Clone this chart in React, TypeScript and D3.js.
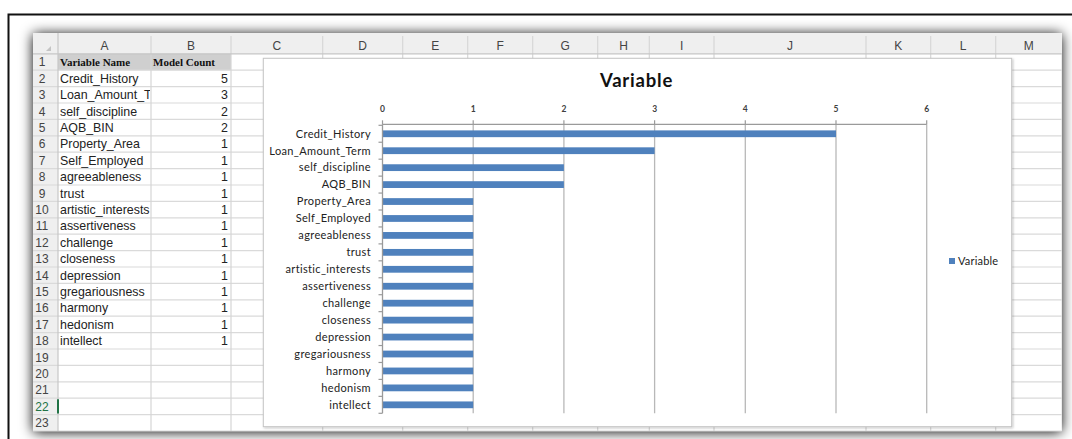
import React from 'react';
import * as d3 from 'd3';

// ---- data ----
const categories = [
  'Credit_History', 'Loan_Amount_Term', 'self_discipline', 'AQB_BIN', 'Property_Area',
  'Self_Employed', 'agreeableness', 'trust', 'artistic_interests', 'assertiveness',
  'challenge', 'closeness', 'depression', 'gregariousness', 'harmony', 'hedonism', 'intellect',
];
const modelCounts = [5, 3, 2, 2, 1, 1, 1, 1, 1, 1, 1, 1, 1, 1, 1, 1, 1];
const xTicks = [0, 1, 2, 3, 4, 5, 6];
const chartTitle = 'Variable';
const seriesName = 'Variable';
const headerNames = ['Variable Name', 'Model Count'];
const columnLetters = ['A', 'B', 'C', 'D', 'E', 'F', 'G', 'H', 'I', 'J', 'K', 'L', 'M'];
const rowCount = 23;

// ---- layout ----
const W = 1072, H = 439;
const colEdges = [58, 151, 231, 322.7, 402.7, 467.7, 532.7, 597.7, 649.3, 714, 866, 930.7, 995.7, 1061.7];
const sheetLeft = 33, sheetTop = 33, sheetRight = 1061.7, sheetBottom = 431;
const headBottom = 53.8, rowH = 16.4;
const chartBox = { x0: 263.3, y0: 58.3, x1: 1011.7, y1: 426.7 };
const plot = { left: 382.5, right: 926.7, top: 124.3, bottom: 413.3 };
const BAR = '#4F81BD';
const SHEET_FONT = '"Liberation Sans", Arial, sans-serif';
const CHART_FONT = 'Lato, "Open Sans", sans-serif';

export default function App() {
  const x = d3.scaleLinear().domain([0, 6]).range([plot.left, plot.right]);
  const y = d3.scaleBand<string>().domain(categories).range([plot.top + 1, plot.bottom]).paddingInner(0.6).paddingOuter(0.3);
  const step = y.step();
  const rowY = (r: number) => headBottom + (r - 1) * rowH; // top of row r

  return (
    <svg width={W} height={H} style={{ position: 'absolute', left: 0, top: 0, background: '#fff' }}>
      <defs>
        <filter id="sheetShadow" x="-5%" y="-10%" width="110%" height="120%">
          <feDropShadow dx="0" dy="1" stdDeviation="6.5" floodColor="#000" floodOpacity="1" />
        </filter>
        <filter id="chartShadow" x="-2%" y="-2%" width="104%" height="104%">
          <feDropShadow dx="1" dy="1" stdDeviation="0.8" floodColor="#000" floodOpacity="0.25" />
        </filter>
        <clipPath id="clipA"><rect x={colEdges[0]} y={0} width={colEdges[1] - colEdges[0] - 1} height={H} /></clipPath>
      </defs>
      <rect x={0} y={0} width={W} height={H} fill="#fff" />
      {/* outer frame */}
      <rect x={8.5} y={14.5} width={W + 20} height={H + 20} fill="#fff" stroke="#111" strokeWidth={2} />

      {/* sheet */}
      <rect x={sheetLeft} y={sheetTop} width={sheetRight - sheetLeft} height={sheetBottom - sheetTop} fill="#fff" filter="url(#sheetShadow)" />
      {/* header backgrounds */}
      <rect x={sheetLeft} y={sheetTop} width={sheetRight - sheetLeft} height={headBottom - sheetTop} fill="#efefef" />
      <rect x={sheetLeft} y={headBottom} width={colEdges[0] - sheetLeft} height={sheetBottom - headBottom} fill="#efefef" />
      <rect x={colEdges[0]} y={rowY(1)} width={colEdges[2] - colEdges[0]} height={rowH} fill="#cfcfcf" />
      {/* corner triangle */}
      <path d="M51,46 L51,51 L46,51 Z" fill="#c4c4c4" />
      {/* gridlines */}
      {d3.range(1, rowCount + 1).map((r) => (
        <line key={'rl' + r} x1={sheetLeft} x2={sheetRight} y1={rowY(r) + rowH} y2={rowY(r) + rowH} stroke="#dadada" strokeWidth={1.2} />
      ))}
      {colEdges.slice(1, -1).map((cx, i) => (
        <line key={'cl' + i} x1={cx} x2={cx} y1={sheetTop + 3} y2={sheetBottom} stroke="#d6d6d6" strokeWidth={1.2} />
      ))}
      <line x1={sheetLeft} x2={sheetRight} y1={headBottom} y2={headBottom} stroke="#c6c6c6" strokeWidth={1.2} />
      <line x1={colEdges[0]} x2={colEdges[0]} y1={sheetTop} y2={sheetBottom} stroke="#c6c6c6" strokeWidth={1.2} />
      {/* column letters */}
      {columnLetters.map((c, i) => (
        <text key={c} x={(colEdges[i] + colEdges[i + 1]) / 2} y={50} textAnchor="middle" fontFamily={SHEET_FONT} fontSize={12} fill="#444">{c}</text>
      ))}
      {/* row numbers */}
      {d3.range(1, rowCount + 1).map((r) => (
        <text key={'rn' + r} x={42} y={rowY(r) + 12.6} textAnchor="middle" fontFamily={SHEET_FONT} fontSize={12} fill={r === 22 ? '#217346' : '#444'}>{r}</text>
      ))}
      <line x1={58} x2={58} y1={rowY(22) + 1} y2={rowY(22) + rowH - 1} stroke="#217346" strokeWidth={2} />
      {/* header cells */}
      <text x={60} y={rowY(1) + 12} fontFamily='"Liberation Serif", "Times New Roman", serif' fontWeight="bold" fontSize={11} fill="#111">{headerNames[0]}</text>
      <text x={153} y={rowY(1) + 12} fontFamily='"Liberation Serif", "Times New Roman", serif' fontWeight="bold" fontSize={11} fill="#111">{headerNames[1]}</text>
      {/* data cells */}
      <g clipPath="url(#clipA)">
        {categories.map((c, i) => (
          <text key={'cn' + c} x={60} y={rowY(i + 2) + 12.6} fontFamily={SHEET_FONT} fontSize={12.4} fill="#222">{c}</text>
        ))}
      </g>
      {modelCounts.map((v, i) => (
        <text key={'cv' + i} x={228} y={rowY(i + 2) + 12.6} textAnchor="end" fontFamily={SHEET_FONT} fontSize={12.4} fill="#222">{v}</text>
      ))}

      {/* chart */}
      <rect x={chartBox.x0} y={chartBox.y0} width={chartBox.x1 - chartBox.x0} height={chartBox.y1 - chartBox.y0} fill="#fff" stroke="#c4c4c4" strokeWidth={1} filter="url(#chartShadow)" />
      <text x={636.5} y={87} textAnchor="middle" fontFamily={CHART_FONT} fontWeight="bold" fontSize={18.5} letterSpacing={0.8} fill="#111">{chartTitle}</text>
      {/* gridlines */}
      {xTicks.filter((t) => t > 0).map((t) => (
        <line key={'g' + t} x1={x(t)} x2={x(t)} y1={plot.top} y2={plot.bottom} stroke="#b8b8b8" strokeWidth={1.3} />
      ))}
      {/* top value axis */}
      <line x1={plot.left} x2={plot.right} y1={plot.top} y2={plot.top} stroke="#9a9a9a" strokeWidth={1.3} />
      {xTicks.map((t) => (
        <g key={'t' + t}>
          <line x1={x(t)} x2={x(t)} y1={plot.top - 4} y2={plot.top} stroke="#9a9a9a" strokeWidth={1.2} />
          <text x={x(t)} y={112} textAnchor="middle" fontFamily={CHART_FONT} fontWeight="bold" fontSize={8.5} fill="#404040">{t}</text>
        </g>
      ))}
      {/* bars */}
      {categories.map((c, i) => (
        <rect key={'b' + c} x={x(0)} y={y(c)!} width={x(modelCounts[i]) - x(0)} height={y.bandwidth()} fill={BAR} />
      ))}
      {/* category axis */}
      <line x1={plot.left} x2={plot.left} y1={plot.top} y2={plot.bottom} stroke="#9a9a9a" strokeWidth={1.3} />
      {d3.range(categories.length + 1).map((k) => {
        const yy = plot.top + 1 + k * step;
        return <line key={'ct' + k} x1={plot.left - 4} x2={plot.left} y1={yy} y2={yy} stroke="#9a9a9a" strokeWidth={1.2} />;
      })}
      {categories.map((c) => (
        <text key={'l' + c} x={371} y={y(c)! + y.bandwidth() / 2 + 3.8} textAnchor="end" fontFamily={CHART_FONT} fontSize={11} letterSpacing={0.35} fill="#222">{c}</text>
      ))}
      {/* legend */}
      <rect x={949} y={258} width={6} height={6} fill={BAR} />
      <text x={958} y={264.7} fontFamily={CHART_FONT} fontSize={11} letterSpacing={0.2} fill="#222">{seriesName}</text>
    </svg>
  );
}
